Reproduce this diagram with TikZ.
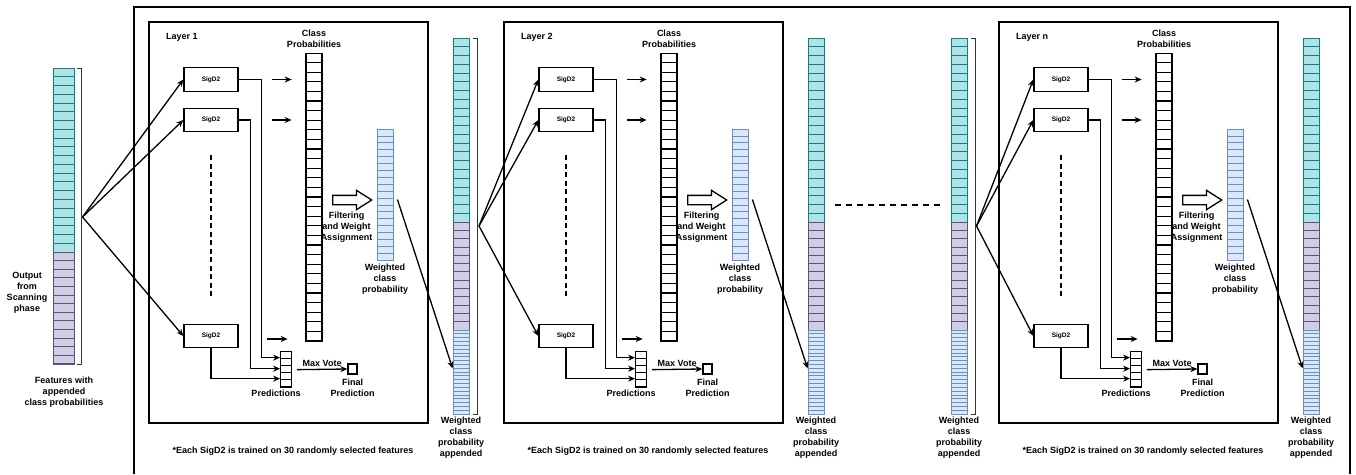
\documentclass[tikz,border=0pt]{standalone}
\usepackage{fontspec}
\setmainfont{Liberation Sans}
\usetikzlibrary{arrows.meta,shapes.arrows,positioning}

\definecolor{tealfill}{HTML}{B0E3E6}
\definecolor{tealline}{HTML}{0E8088}
\definecolor{purpfill}{HTML}{D0CEE2}
\definecolor{purpline}{HTML}{56517E}
\definecolor{bluefill}{HTML}{DAE8FC}
\definecolor{blueline}{HTML}{6C8EBF}

%% column of cells: name, style, x, top, width, cell height, cells
\newcommand{\cellcol}[7]{%
  \node[#2, minimum width=#5, minimum height={#6*#7}, anchor=north] (#1) at (#3,#4) {};
  \foreach \k in {1,...,#7}
    \draw[#2, fill=none] ([yshift={-\k*#6}]#1.north west) -- ([yshift={-\k*#6}]#1.north east);
}

\tikzset{
  lbl/.style={font=\fontsize{9}{11}\selectfont\bfseries, align=center, inner sep=0pt},
  sigbox/.style={draw, line width=1.3pt, minimum width=54pt, minimum height=23.5pt, inner sep=0pt, font=\fontsize{6.5}{7}\selectfont\bfseries},
  blk/.style={draw, line width=1.3pt, fill=white, inner sep=0pt},
  tcol/.style={draw=tealline, fill=tealfill, line width=0.8pt, inner sep=0pt},
  pcol/.style={draw=purpline, fill=purpfill, line width=0.8pt, inner sep=0pt},
  bcol/.style={draw=blueline, fill=bluefill, line width=0.8pt, inner sep=0pt},
  link/.style={line width=1.3pt},
  wire/.style={line width=1.3pt, -{Stealth[length=7pt,width=6pt]}},
  brk/.style={line width=0.8pt, black!80},
  fatarrow/.style={single arrow, draw, line width=1.3pt, fill=white, inner xsep=0pt, inner ysep=4pt, minimum height=39pt, single arrow head extend=5pt, single arrow tip angle=65},
}

\begin{document}
\begin{tikzpicture}[x=1pt,y=-1pt]
\useasboundingbox[fill=white] (0,0) rectangle (1356,474);

%% outer frame
\draw[line width=1.5pt] (134,474) -- (134,7) -- (1350,7) -- (1350,474);

%% input features
\cellcol{inp-t}{tcol}{63.5}{68}{21}{8.76}{21}
\cellcol{inp-p}{pcol}{63.5}{252}{21}{8.6}{13}
\draw[brk] ([xshift=3pt]inp-t.north east) -- ++(4,0) |- ([xshift=3pt]inp-p.south east);
\coordinate (inp-o) at (82.5,217);
\node[lbl] (outl) at (27,293) {Output\\from\\Scanning\\phase}; %%
\node[lbl] (featl) at (64,392) {Features with\\appended\\class probabilities}; %%

%% appended columns
\foreach \n/\x in {1/461, 2/816, 3/959, 4/1311}{
  \cellcol{ap\n-t}{tcol}{\x}{38}{16}{8.76}{21}
  \cellcol{ap\n-p}{pcol}{\x}{222}{16}{8.3}{13}
  \cellcol{ap\n-b}{bcol}{\x}{330}{16}{3.82}{22}
  \node[lbl, below=2pt of ap\n-b] (ap\n-l) {Weighted\\class\\probability\\appended};
}
\draw[brk] ([xshift=4pt]ap1-t.north east) -- ++(4,0) |- ([xshift=4pt]ap1-b.south east);
\draw[brk] ([xshift=4pt]ap3-t.north east) -- ++(4,0) |- ([xshift=4pt]ap3-b.south east);
\coordinate (ap1-o) at (479,226);
\coordinate (ap3-o) at (976.5,226);
\draw[link, dash pattern=on 6pt off 5pt] (835,205) -- (940,205);

%% layers
\foreach \off/\lab/\id/\src/\dst in {0/1/a/inp-o/ap1-b, 355/2/b/ap1-o/ap2-b, 850/n/c/ap3-o/ap4-b}{
\begin{scope}[xshift=\off]
\draw[line width=1.5pt] (149,22) rectangle (428,423);
\node[lbl, anchor=west] (lay\id) at (166,37) {Layer \lab}; %%
\node[lbl] (cpl\id) at (314,39) {Class\\Probabilities}; %%
\cellcol{cp\id}{blk}{314}{53}{16}{9.6}{30}
\node[sigbox] (s\id1) at (211,79.5) {SigD2}; %%
\node[sigbox] (s\id2) at (211,120) {SigD2}; %%
\node[sigbox] (s\id3) at (211,336) {SigD2}; %%
\draw[link, dash pattern=on 5pt off 3.5pt] ([yshift=-23pt]s\id2.south) -- ([yshift=-165pt]s\id2.south);
\draw[wire] (\src) -- (s\id1.west);
\draw[wire] (\src) -- (s\id2.west);
\draw[wire] (\src) -- (s\id3.west);
\draw[wire] ([xshift=33pt]s\id1.east) -- ++(20,0);
\draw[wire] ([xshift=33pt]s\id2.east) -- ++(20,0);
\draw[wire] ([shift={(28pt,-3pt)}]s\id3.east) -- ++(21,0);
\cellcol{pr\id}{blk}{286}{351}{10.5}{7.2}{5}
\draw[wire] (s\id1.east) -- ++(22.7,0) |- ([yshift=12pt]pr\id.west);
\draw[wire] (s\id2.east) -- ++(12,0) |- ([yshift=1pt]pr\id.west);
\draw[wire] (s\id3.south) |- ([yshift=-9pt]pr\id.west);
\node[lbl] (prl\id) at (276,393) {Predictions}; %%
\node[blk, minimum width=9pt, minimum height=10pt] (fp\id) at (352.5,369) {};
\draw[wire] ([xshift=5pt]pr\id.east) -- (fp\id.west) node[lbl, midway, above=2pt] (mv\id) {Max Vote};
\node[lbl, below=4pt of fp\id] (fpl\id) {Final\\Prediction}; %%
\node[fatarrow] (fa\id) at (348.5,200) {};
\node[lbl] (fal\id) at (346.5,227.5) {Filtering\\and Weight\\Assignment}; %%
\cellcol{wc\id}{bcol}{385}{129}{16}{6.9}{19}
\node[lbl, below=3pt of wc\id] (wcl\id) {Weighted\\class\\probability}; %%
\draw[wire] ([shift={(4pt,-4.5pt)}]wc\id.east) -- ([yshift=4pt]\dst.west);
\node[lbl] (note\id) at (293,451) {*Each SigD2 is trained on 30 randomly selected features}; %%
\end{scope}
}
\end{tikzpicture}
\end{document}
